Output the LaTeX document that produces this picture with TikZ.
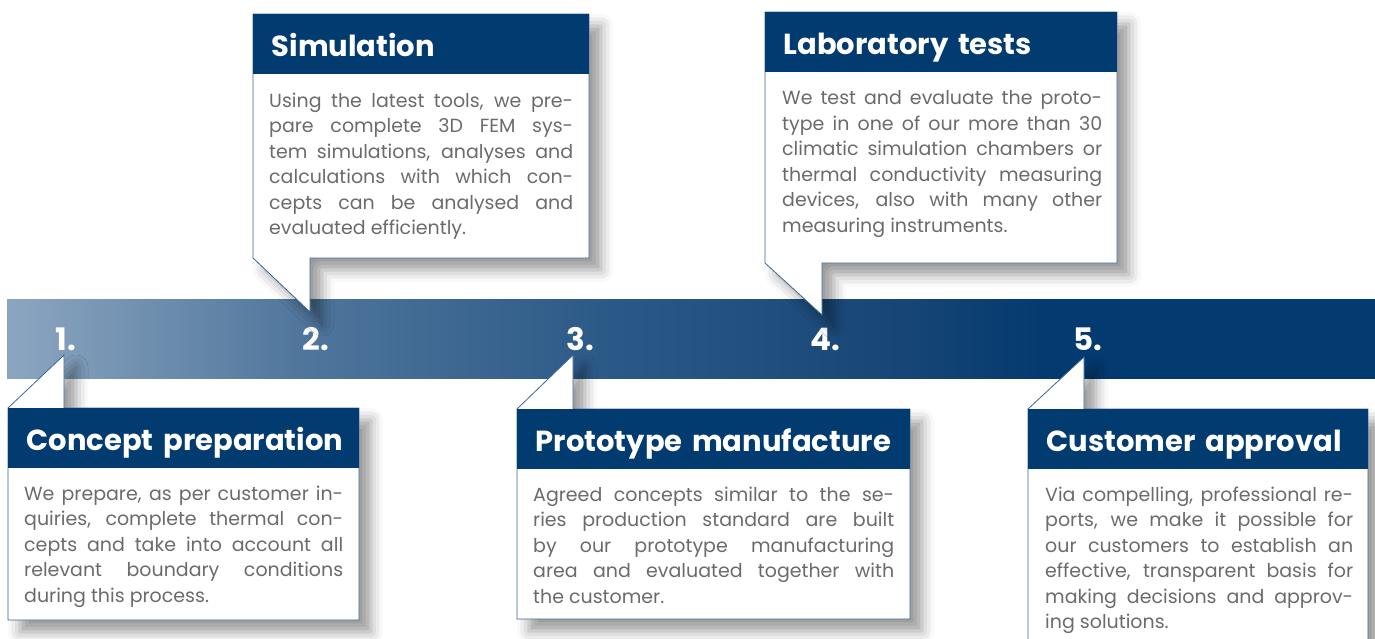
\documentclass[tikz,border=0pt]{standalone}
\usepackage{fontspec}
\setmainfont{Poppins}
\usetikzlibrary{shadows.blur}
\definecolor{navy}{HTML}{023B70}
\definecolor{edge}{HTML}{3B6592}
\definecolor{bodygray}{HTML}{6B6B6B}
\definecolor{barA}{HTML}{8CA6C1}
\definecolor{barB}{HTML}{50769C}
\definecolor{barC}{HTML}{2C5A88}
\definecolor{barD}{HTML}{174676}
\definecolor{barE}{HTML}{033A6F}
\pgfdeclarehorizontalshading{barshade}{100bp}{color(0bp)=(barA); color(25bp)=(barA); color(35.7bp)=(barB); color(46.7bp)=(barC); color(57.6bp)=(barD); color(63bp)=(barE); color(75bp)=(barE); color(100bp)=(barE)}
\hyphenpenalty=10000
\tolerance=10000
\tikzset{
  head/.style={fill=navy, text=white, anchor=north west, inner xsep=18.5pt, inner ysep=0pt,
    minimum height=60pt, text height=31pt, text depth=6pt, align=left,
    font=\fontsize{29}{36}\selectfont\bfseries},
  body/.style={text=bodygray, anchor=north west, inner sep=0pt, align=justify,
    font=\fontsize{19}{25.5}\selectfont},
  num/.style={text=white, font=\fontsize{31}{36}\selectfont\bfseries},
  callout/.style={fill=white, draw=edge, line width=0.8pt,
    blur shadow={shadow xshift=12pt, shadow yshift=-12pt, shadow blur radius=12pt, shadow opacity=40}}
}
\begin{document}
\begin{tikzpicture}[x=1pt,y=-1pt,line join=miter]
\useasboundingbox (0,0) rectangle (1375,639);
% timeline bar
\shade[shading=barshade] (7,299) rectangle (1375,378);
\node[num] (n1) at (66,339) {1.};
\node[num] (n2) at (316,339) {2.};
\node[num] (n3) at (580,339) {3.};
\node[num] (n4) at (825,339) {4.};
\node[num] (n5) at (1088,339) {5.};
% step 1
\path[callout] (8,408) -- (64,355) -- (64,408) -- (359,408) -- (359,620) -- (8,620) -- cycle;
\node[head, text width=314pt] (h1) at (8,408) {\mbox{Concept preparation}};
\node[body, text width=319pt] (b1) at ([xshift=16pt,yshift=-17pt]h1.south west)
  {We prepare, as per customer in-\linebreak quiries, complete thermal con-\linebreak cepts and take into account all\linebreak relevant boundary conditions\linebreak during this process.};
% step 2
\path[callout] (253,14) -- (589,14) -- (589,258) -- (310,258) -- (310,312) -- (253,258) -- cycle;
\node[head, text width=299pt] (h2) at (253,14) {\mbox{Simulation}};
\node[body, text width=304pt] (b2) at ([xshift=16pt,yshift=-18pt]h2.south west)
  {Using the latest tools, we pre-\linebreak pare complete 3D FEM sys-\linebreak tem simulations, analyses and\linebreak calculations with which con-\linebreak cepts can be analysed and\linebreak evaluated efficiently.};
% step 3
\path[callout] (517,409) -- (573,355) -- (573,409) -- (910,409) -- (910,619) -- (517,619) -- cycle;
\node[head, text width=356pt] (h3) at (517,409) {\mbox{Prototype manufacture}};
\node[body, text width=361pt] (b3) at ([xshift=16pt,yshift=-17pt]h3.south west)
  {Agreed concepts similar to the se-\linebreak ries production standard are built\linebreak by our prototype manufacturing\linebreak area and evaluated together with\linebreak the customer.};
% step 4
\path[callout] (765,12) -- (1117,12) -- (1117,263) -- (822,263) -- (822,315) -- (765,263) -- cycle;
\node[head, text width=315pt] (h4) at (765,12) {\mbox{Laboratory tests}};
\node[body, text width=320pt] (b4) at ([xshift=17pt,yshift=-18pt]h4.south west)
  {We test and evaluate the proto-\linebreak type in one of our more than 30\linebreak climatic simulation chambers or\linebreak thermal conductivity measuring\linebreak devices, also with many other\linebreak measuring instruments.};
% step 5
\path[callout] (1028,409) -- (1084,357) -- (1084,409) -- (1368,409) -- (1368,660) -- (1028,660) -- cycle;
\node[head, text width=303pt] (h5) at (1028,409) {\mbox{Customer approval}};
\node[body, text width=308pt] (b5) at ([xshift=17pt,yshift=-17pt]h5.south west)
  {Via compelling, professional re-\linebreak ports, we make it possible for\linebreak our customers to establish an\linebreak effective, transparent basis for\linebreak making decisions and approv-\linebreak ing solutions.};
\end{tikzpicture}
\end{document}
